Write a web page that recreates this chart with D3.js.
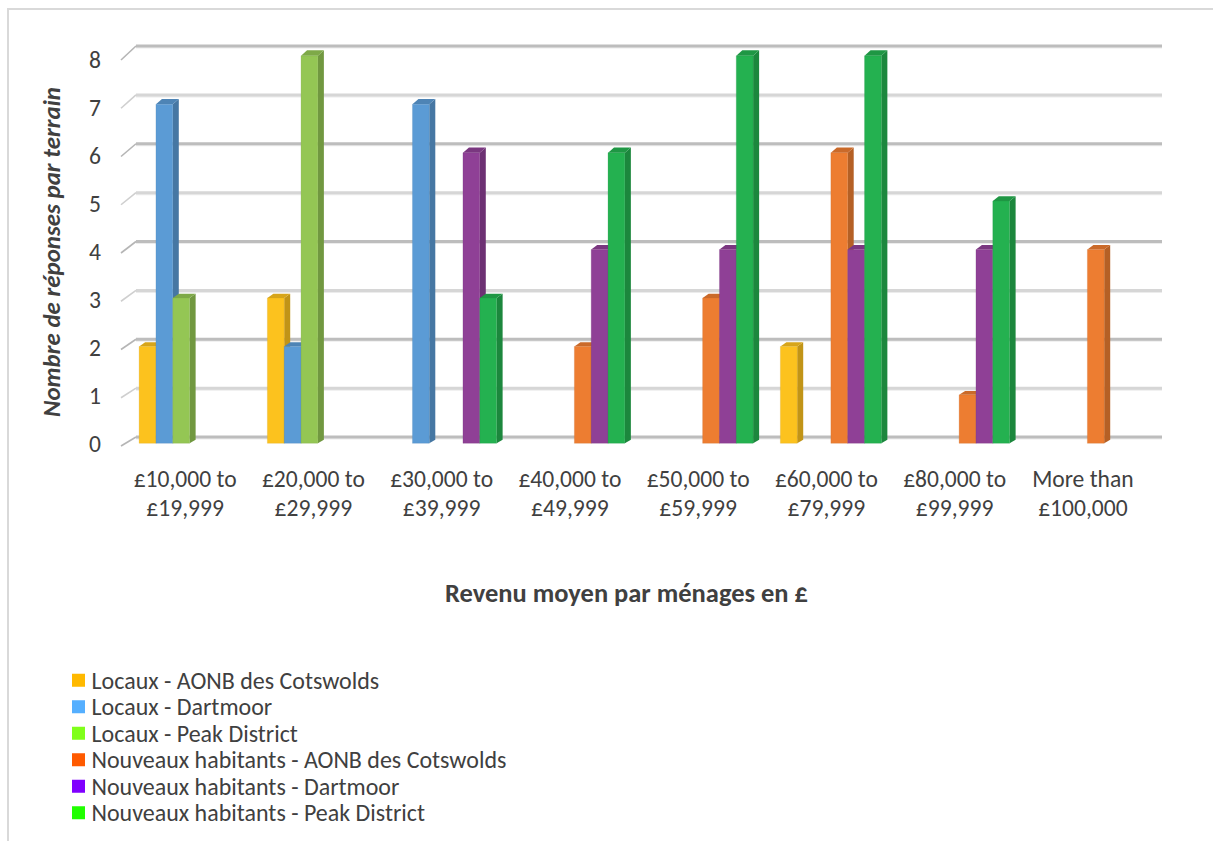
<!DOCTYPE html>
<html>
<head>
<meta charset="utf-8">
<script src="https://cdn.jsdelivr.net/npm/d3@7"></script>
<style>
  html, body { margin: 0; padding: 0; background: #ffffff; }
  svg { display: block; }
  text { font-family: Carlito, Calibri, "Open Sans", "Noto Sans", sans-serif; fill: #404040; }
</style>
</head>
<body>
<svg id="chart" width="1213" height="841"></svg>
<script>
// ---------------- DATA ----------------
const categories = [
  ["£10,000 to", "£19,999"],
  ["£20,000 to", "£29,999"],
  ["£30,000 to", "£39,999"],
  ["£40,000 to", "£49,999"],
  ["£50,000 to", "£59,999"],
  ["£60,000 to", "£79,999"],
  ["£80,000 to", "£99,999"],
  ["More than", "£100,000"]
];
const seriesNames = [
  "Locaux - AONB des Cotswolds",
  "Locaux - Dartmoor",
  "Locaux - Peak District",
  "Nouveaux habitants - AONB des Cotswolds",
  "Nouveaux habitants - Dartmoor",
  "Nouveaux habitants - Peak District"
];
const locauxCotswolds   = [2, 3, 0, 0, 0, 2, 0, 0];
const locauxDartmoor    = [7, 2, 7, 0, 0, 0, 0, 0];
const locauxPeak        = [3, 8, 0, 0, 0, 0, 0, 0];
const nouveauxCotswolds = [0, 0, 0, 2, 3, 6, 1, 4];
const nouveauxDartmoor  = [0, 0, 6, 4, 4, 4, 4, 0];
const nouveauxPeak      = [0, 0, 3, 6, 8, 8, 5, 0];
const seriesValues = [locauxCotswolds, locauxDartmoor, locauxPeak, nouveauxCotswolds, nouveauxDartmoor, nouveauxPeak];
const barColors    = ["#FCC21E", "#5B9BD5", "#94C654", "#ED7D31", "#8F4096", "#24B150"];
const legendColors = ["#FFB900", "#55AFFF", "#80FF1A", "#FF5A00", "#8000FF", "#20FF00"];
const yTickValues = [0, 1, 2, 3, 4, 5, 6, 7, 8];
const yTitle = "Nombre de réponses par terrain";
const xTitle = "Revenu moyen par ménages en £";

// ---------------- LAYOUT ----------------
const svg = d3.select("#chart");
const catKeys = categories.map(c => c.join(" "));

const depthDX = 15;             // x shift from front plane to back wall
const yFront = d3.scaleLinear().domain([0, 8]).range([446, 60]);
const yBack  = d3.scaleLinear().domain([0, 8]).range([437, 46]);
const xCat = d3.scaleBand().domain(catKeys).range([121, 1147])
  .paddingInner(0.2125).paddingOuter(0.10625);
const xSer = d3.scaleBand().domain(seriesNames).range([0, xCat.bandwidth()]);
const t0 = 0.3, t1 = 0.7;       // bar depth span

function P(xf, v, t) {
  return [xf + depthDX * t, yFront(v) + t * (yBack(v) - yFront(v))];
}
const poly = pts => "M" + pts.map(p => p[0].toFixed(2) + "," + p[1].toFixed(2)).join("L") + "Z";

// chart frame
svg.append("rect").attr("x", 8).attr("y", 9).attr("width", 1240).attr("height", 900)
  .attr("fill", "none").attr("stroke", "#d9d9d9").attr("stroke-width", 2);

// gridlines on the back wall + diagonal ticks on the side
const gridG = svg.append("g");
const x0 = xCat.range()[0], x1 = xCat.range()[1];
yTickValues.forEach(v => {
  const a = P(x0, v, 1), b = P(x1, v, 1);
  gridG.append("line").attr("x1", a[0]).attr("y1", a[1] + 1.5).attr("x2", b[0]).attr("y2", b[1] + 1.5)
    .attr("stroke", "#ececec").attr("stroke-width", 2);
  gridG.append("line").attr("x1", a[0]).attr("y1", a[1]).attr("x2", b[0]).attr("y2", b[1])
    .attr("stroke", v % 2 === 0 ? "#bdbdbd" : "#d6d6d6").attr("stroke-width", 3);
  const f = P(x0, v, 0);
  gridG.append("line").attr("x1", f[0]).attr("y1", f[1]).attr("x2", a[0]).attr("y2", a[1])
    .attr("stroke", v % 2 === 0 ? "#b5b5b5" : "#cfcfcf").attr("stroke-width", 1.6);
});

// y tick labels
const yLabel = d3.scaleLinear().domain([0, 8]).range([444, 60]);
const yTickG = svg.append("g");
yTickValues.forEach(v => {
  yTickG.append("text").attr("x", 101).attr("y", yLabel(v)).attr("text-anchor", "end")
    .attr("dominant-baseline", "central").attr("font-size", 19).text(d3.format("d")(v));
});

// bars
const barG = svg.append("g");
catKeys.forEach((ck, ci) => {
  seriesNames.forEach((sn, si) => {
    const v = seriesValues[si][ci];
    if (!v) return;
    const xl = xCat(ck) + xSer(sn), xr = xl + xSer.bandwidth();
    const c = d3.color(barColors[si]);
    const side = c.darker(0.75).toString(), top = c.darker(0.45).toString();
    const edge = c.darker(0.5).toString();
    barG.append("path").attr("d", poly([P(xr, 0, t0), P(xr, 0, t1), P(xr, v, t1), P(xr, v, t0)]))
      .attr("fill", side);
    barG.append("path").attr("d", poly([P(xl, v, t0), P(xr, v, t0), P(xr, v, t1), P(xl, v, t1)]))
      .attr("fill", top);
    barG.append("path").attr("d", poly([P(xl, 0, t0), P(xr, 0, t0), P(xr, v, t0), P(xl, v, t0)]))
      .attr("fill", c.toString()).attr("stroke", edge).attr("stroke-width", 0.4).attr("stroke-opacity", 0.6);
  });
});

// helper: fit font size so a text reaches target width
function fitSize(sample, weight, style, target, base) {
  const t = svg.append("text").attr("font-size", base).attr("font-weight", weight)
    .attr("font-style", style).text(sample);
  const w = t.node().getComputedTextLength();
  t.remove();
  return base * target / w;
}

// x category labels
const xLabSize = fitSize("£10,000 to", "normal", "normal", 103, 18);
const xLabG = svg.append("g");
catKeys.forEach((ck, ci) => {
  const cx = xCat(ck) + xCat.bandwidth() / 2;
  categories[ci].forEach((line, li) => {
    xLabG.append("text").attr("x", cx).attr("y", 479 + li * 29).attr("text-anchor", "middle")
      .attr("dominant-baseline", "central").attr("font-size", xLabSize).text(line);
  });
});
yTickG.selectAll("text").attr("font-size", xLabSize);

// x axis title
const xtSize = fitSize(xTitle, "bold", "normal", 363, 18);
svg.append("text").attr("x", 626.5).attr("y", 593).attr("text-anchor", "middle")
  .attr("dominant-baseline", "central").attr("font-weight", "bold").attr("font-size", xtSize).text(xTitle);

// y axis title
const ytSize = fitSize(yTitle, "bold", "italic", 330, 18);
svg.append("text").attr("transform", "translate(51,252) rotate(-90)").attr("text-anchor", "middle")
  .attr("dominant-baseline", "central").attr("font-weight", "bold").attr("font-style", "italic")
  .attr("font-size", ytSize).text(yTitle);

// legend
const legSize = fitSize(seriesNames[3], "normal", "normal", 415, 18);
const legY = d3.scaleBand().domain(seriesNames).range([667, 826]);
const legG = svg.append("g");
seriesNames.forEach((sn, si) => {
  const cy = legY(sn) + legY.bandwidth() / 2;
  legG.append("rect").attr("x", 72).attr("y", cy - 6.5).attr("width", 13).attr("height", 13)
    .attr("fill", legendColors[si]);
  legG.append("text").attr("x", 91.5).attr("y", cy).attr("dominant-baseline", "central")
    .attr("font-size", legSize).text(sn);
});
</script>
</body>
</html>
